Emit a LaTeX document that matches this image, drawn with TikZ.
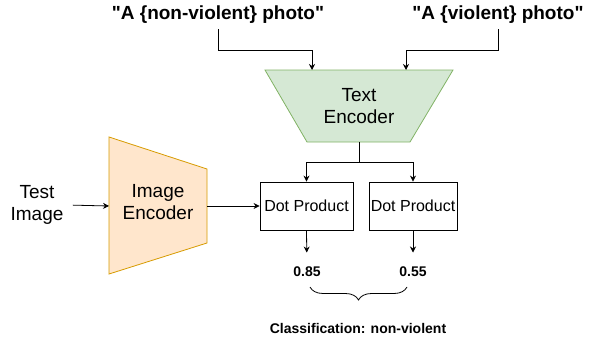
\documentclass[tikz,border=0pt]{standalone}
\usepackage{fontspec}
\setmainfont{Liberation Sans}
\usetikzlibrary{arrows.meta,decorations.pathreplacing}
\definecolor{encgreen}{HTML}{D5E8D4}
\definecolor{encgreenline}{HTML}{82B366}
\definecolor{encorange}{HTML}{FFE6CC}
\definecolor{encorangeline}{HTML}{D79B00}

\begin{document}
\begin{tikzpicture}[x=1pt,y=-1pt,
    big/.style={font=\fontsize{19}{22}\selectfont, align=center},
    prompt/.style={font=\fontsize{19}{22}\selectfont\bfseries, inner sep=5pt},
    dotbox/.style={draw, line width=0.8pt, minimum height=48pt, inner sep=0pt,
      font=\fontsize{16}{19}\selectfont},
    score/.style={font=\fontsize{14}{17}\selectfont\bfseries},
    link/.style={line width=0.8pt, -{Stealth[length=6pt,width=6pt]}}]
      \useasboundingbox (0,0) rectangle (591,337);
      % prompts
      \node[prompt] (neg) at (218,15) {\textquotedbl A \{non-violent\} photo\textquotedbl};
      \node[prompt] (pos) at (498,15) {\textquotedbl A \{violent\} photo\textquotedbl};
      % text encoder
      \filldraw[fill=encgreen, draw=encgreenline, line width=0.8pt]
        (265,70) -- (453,70) -- (410,142) -- (307,142) -- cycle;
      \coordinate (tein1) at (312,70);
      \coordinate (tein2) at (406,70);
      \coordinate (teout) at (359,142);
      \node[big] (txtenc) at (359,106) {Text\\Encoder};
      % image encoder
      \filldraw[fill=encorange, draw=encorangeline, line width=0.8pt]
        (109,137) -- (207,169) -- (207,243) -- (109,274) -- cycle;
      \coordinate (iein)  at (109,206);
      \coordinate (ieout) at (207,206);
      \node[big] (imgenc) at (158,202) {Image\\Encoder};
      \node[big] (test) at (37,205) {Test\\Image};
      % dot products and scores
      \node[dotbox, minimum width=93pt] (dot1) at (306.5,206) {Dot Product};
      \node[dotbox, minimum width=88pt] (dot2) at (413,206) {Dot Product};
      \node[score] (val1) at (307,272) {0.85};
      \node[score] (val2) at (413,272) {0.55};
      \node[score] (result) at (358,328) {Classification: non-violent};
      % arrows
      \draw[link] (neg.south) |- (312,50) -- (tein1);
      \draw[link] (pos.south) |- (406,50) -- (tein2);
      \draw[link, shorten <=6pt] (test.east) -- (iein);
      \draw[link] (ieout) -- (dot1.west);
      \draw[link] (teout) -- (359,162) -| (dot1.north);
      \draw[link] (teout) -- (359,162) -| (dot2.north);
      \draw[link, shorten >=11pt] (dot1.south) -- (val1);
      \draw[link, shorten >=11pt] (dot2.south) -- (val2);
      \draw[line width=0.8pt, decorate, decoration={brace, mirror, amplitude=13pt}]
        (310,287) coordinate (br1) -- (407,287) coordinate (br2);
\end{tikzpicture}
\end{document}
